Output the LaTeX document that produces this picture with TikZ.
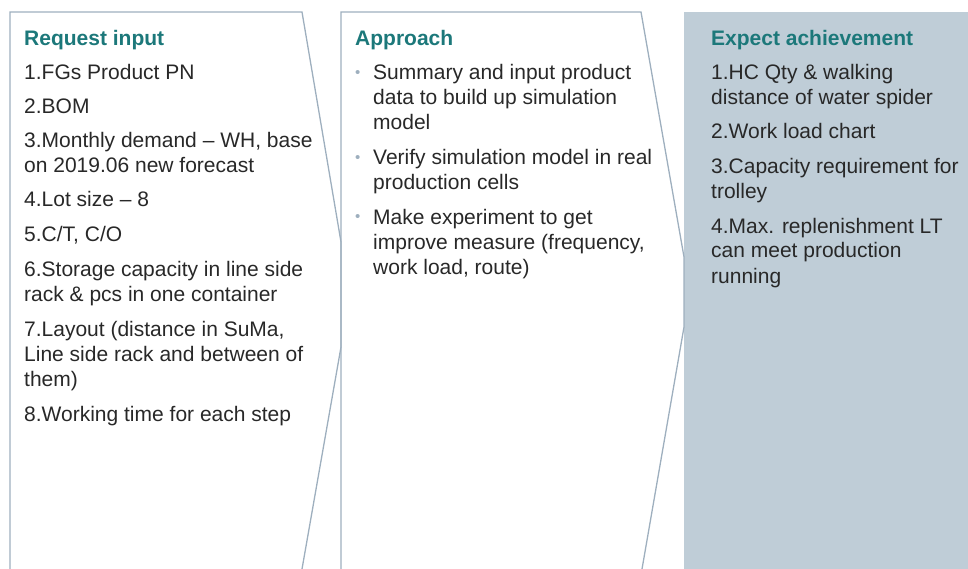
\documentclass[tikz,border=0pt]{standalone}
\usepackage{fontspec}
\setmainfont{Liberation Sans}
\definecolor{headteal}{RGB}{28,120,122}
\definecolor{bodygray}{RGB}{40,40,40}
\definecolor{edgeblue}{RGB}{158,175,190}
\definecolor{panelfill}{RGB}{191,205,215}

\begin{document}
\begin{tikzpicture}[x=1pt,y=-1pt,
	font=\fontsize{21}{25}\selectfont,
	head/.style={anchor=base west,inner sep=0pt,text=headteal,font=\fontsize{21}{25}\selectfont\bfseries},
	item/.style={anchor=base west,inner sep=0pt,align=left,text=bodygray},
	dot/.style={anchor=base west,inner sep=0pt,text=edgeblue,font=\fontsize{15}{18}\selectfont},
	edge/.style={draw=edgeblue,line width=1.3pt}]
	\useasboundingbox (0,0) rectangle (968,569);

	% panels
	\fill[panelfill] (684,12) rectangle (968,569);
	\draw[edge] (10,569) -- (10,12) -- (302,12) -- (341,242) -- (341,347) -- (302,569);
	\draw[edge] (341,569) -- (341,12) -- (641,12) -- (684,257) -- (684,327) -- (642,569);

	% request input (multi-line nodes sit on their last line)
	\node[head] (H1) at (24,46) {Request input};
	\node[item] (R1) at (24,80) {1.FGs Product PN};
	\node[item] (R2) at (24,114) {2.BOM};
	\node[item] (R3) at (24,173) {3.Monthly demand -- WH, base\\on 2019.06 new forecast};
	\node[item] (R4) at (24,207) {4.Lot size -- 8};
	\node[item] (R5) at (24,242) {5.C/T, C/O};
	\node[item] (R6) at (24,301) {6.Storage capacity in line side\\rack \& pcs in one container};
	\node[item] (R7) at (24,386) {7.Layout (distance in SuMa,\\Line side rack and between of\\them)};
	\node[item] (R8) at (24,421) {8.Working time for each step};

	% approach
	\node[head] (H2) at (355,46) {Approach};
	\node[dot] (D1) at (355,78) {\textbullet};
	\node[item] (A1) at (373,130) {Summary and input product\\data to build up simulation\\model};
	\node[dot] (D2) at (355,163) {\textbullet};
	\node[item] (A2) at (373,190) {Verify simulation model in real\\production cells};
	\node[dot] (D3) at (355,222) {\textbullet};
	\node[item] (A3) at (373,274) {Make experiment to get\\improve measure (frequency,\\work load, route)};

	% expect achievement
	\node[head] (H3) at (711,46) {Expect achievement};
	\node[item] (E1) at (711,105) {1.HC Qty \& walking\\distance of water spider};
	\node[item] (E2) at (711,139) {2.Work load chart};
	\node[item] (E3) at (711,199) {3.Capacity requirement for\\trolley};
	\node[item] (E4) at (711,283) {4.Max. replenishment LT\\can meet production\\running};
\end{tikzpicture}
\end{document}
